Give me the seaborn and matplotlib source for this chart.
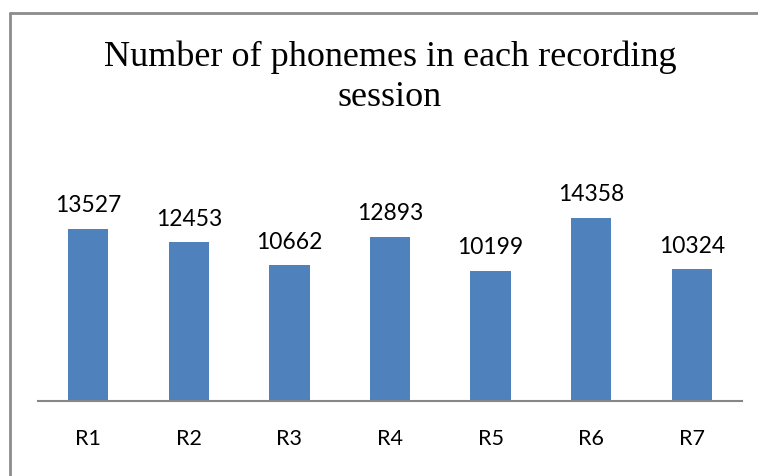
import matplotlib
matplotlib.use("Agg")
import matplotlib.pyplot as plt
from matplotlib.lines import Line2D
import seaborn as sns
import pandas as pd

sessions = ["R1", "R2", "R3", "R4", "R5", "R6", "R7"]
phonemes = [13527, 12453, 10662, 12893, 10199, 14358, 10324]
title = "Number of phonemes in each recording\nsession"

sns.set_theme(style="white")
plt.rcParams['font.family'] = ['Lato', 'DejaVu Sans']

W, H = 758, 476
fig = plt.figure(figsize=(W / 100, H / 100), dpi=100)
ax = fig.add_axes([38 / W, 1 - 401 / H, (742 - 38) / W, (401 - 197) / H])

df = pd.DataFrame({"session": sessions, "count": phonemes})
sns.barplot(data=df, x="session", y="count", color="#4F81BD", width=0.4,
            saturation=1, ax=ax, edgecolor="none")

ax.set_ylim(0, 16000)
ax.set_xlim(-0.5, len(sessions) - 0.5)
for c in ax.containers:
    ax.bar_label(c, labels=[str(v) for v in phonemes], padding=9,
                 fontsize=16.5, color="black")

ax.set_xlabel("")
ax.set_ylabel("")
ax.set_yticks([])
ax.tick_params(axis="x", length=0, pad=20, labelsize=15.5, labelcolor="black")
for s in ["top", "right", "left"]:
    ax.spines[s].set_visible(False)
ax.spines["bottom"].set_color("#868686")
ax.spines["bottom"].set_linewidth(1.5)

fig.text(390 / W, 1 - 77 / H, title, ha="center", va="center",
         fontsize=26, family=["Liberation Serif"], color="black",
         linespacing=1.3)

# outer chart border (left and top only, as visible in the reference)
bc = "#8C8C8C"
fig.add_artist(Line2D([9.5 / W, 9.5 / W], [0, 1 - 12.5 / H],
                      transform=fig.transFigure, color=bc, lw=2))
fig.add_artist(Line2D([9.5 / W, 1], [1 - 12.5 / H, 1 - 12.5 / H],
                      transform=fig.transFigure, color=bc, lw=2))

fig.savefig("out.png", dpi=100, facecolor="white")
